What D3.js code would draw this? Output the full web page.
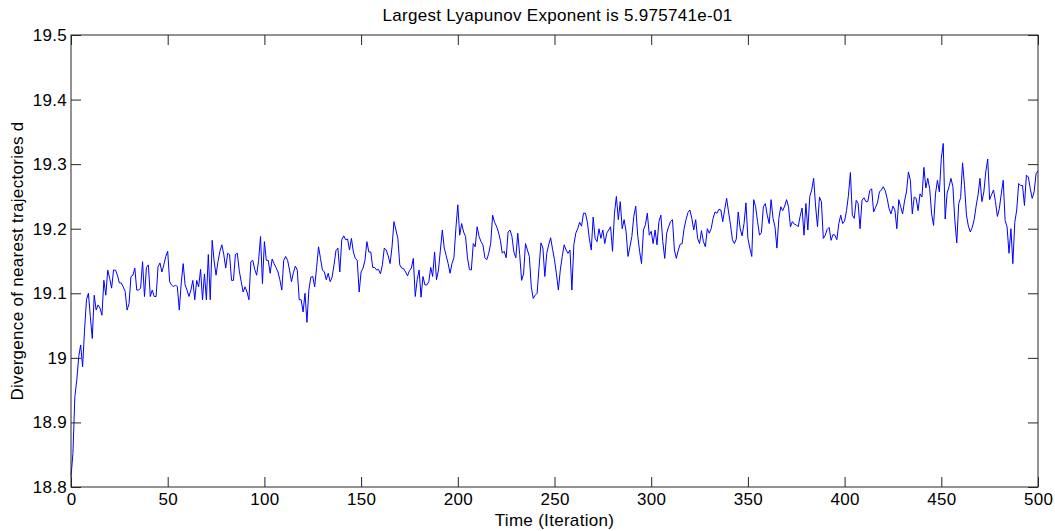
<!DOCTYPE html>
<html>
<head>
<meta charset="utf-8">
<script src="https://cdn.jsdelivr.net/npm/d3@7"></script>
<style>
  html, body { margin: 0; padding: 0; background: #fff; }
  svg { display: block; }
  text { font-family: "Liberation Sans", Arial, Helvetica, sans-serif; fill: #000; letter-spacing: 0.3px; }
</style>
</head>
<body>
<svg id="chart" width="1055" height="531"></svg>
<script>
const titleText = "Largest Lyapunov Exponent is 5.975741e-01";
const xLabel = "Time (Iteration)";
const yLabel = "Divergence of nearest trajectories d";
const xTicks = [0, 50, 100, 150, 200, 250, 300, 350, 400, 450, 500];
const yTicks = [18.8, 18.9, 19.0, 19.1, 19.2, 19.3, 19.4, 19.5];
const yTickLabels = ["18.8", "18.9", "19", "19.1", "19.2", "19.3", "19.4", "19.5"];
const xDomain = [0, 500];
const yDomain = [18.8, 19.5];

// divergence per iteration 0..500
const divergence = [
  18.816, 18.852, 18.94, 18.966, 19.002, 19.02, 18.986, 19.043, 19.09, 19.10,
  19.064, 19.03, 19.097, 19.074, 19.082, 19.077, 19.066, 19.12, 19.097, 19.136,
  19.123, 19.108, 19.136, 19.136, 19.128, 19.116, 19.116, 19.11, 19.103, 19.074,
  19.084, 19.126, 19.128, 19.139, 19.105, 19.105, 19.108, 19.149, 19.095, 19.14,
  19.144, 19.095, 19.105, 19.095, 19.095, 19.141, 19.147, 19.133, 19.144, 19.157,
  19.165, 19.118, 19.113, 19.11, 19.113, 19.11, 19.074, 19.116, 19.146, 19.113,
  19.105, 19.095, 19.105, 19.12, 19.09, 19.12, 19.11, 19.137, 19.09, 19.13,
  19.09, 19.16, 19.09, 19.182, 19.15, 19.128, 19.149, 19.165, 19.175, 19.16,
  19.139, 19.162, 19.16, 19.12, 19.12, 19.16, 19.162, 19.135, 19.118, 19.102,
  19.11, 19.102, 19.09, 19.149, 19.151, 19.137, 19.128, 19.151, 19.188, 19.115,
  19.18, 19.151, 19.151, 19.131, 19.153, 19.146, 19.14, 19.133, 19.121, 19.105,
  19.151, 19.157, 19.151, 19.136, 19.118, 19.132, 19.142, 19.136, 19.09, 19.09,
  19.071, 19.10, 19.055, 19.105, 19.125, 19.126, 19.11, 19.14, 19.172, 19.154,
  19.136, 19.133, 19.121, 19.131, 19.118, 19.125, 19.144, 19.166, 19.17, 19.133,
  19.183, 19.189, 19.183, 19.184, 19.167, 19.185, 19.164, 19.154, 19.151, 19.102,
  19.133, 19.139, 19.151, 19.18, 19.164, 19.164, 19.14, 19.14, 19.136, 19.137,
  19.13, 19.144, 19.17, 19.167, 19.158, 19.146, 19.172, 19.211, 19.198, 19.185,
  19.144, 19.139, 19.138, 19.133, 19.127, 19.135, 19.139, 19.154, 19.095, 19.121,
  19.136, 19.094, 19.126, 19.113, 19.113, 19.118, 19.14, 19.126, 19.164, 19.121,
  19.136, 19.167, 19.198, 19.17, 19.158, 19.146, 19.131, 19.146, 19.155, 19.2,
  19.237, 19.19, 19.208, 19.195, 19.188, 19.155, 19.137, 19.136, 19.177, 19.172,
  19.203, 19.188, 19.18, 19.175, 19.155, 19.152, 19.162, 19.177, 19.221, 19.21,
  19.204, 19.195, 19.182, 19.162, 19.165, 19.155, 19.195, 19.198, 19.188, 19.164,
  19.155, 19.193, 19.16, 19.12, 19.13, 19.177, 19.167, 19.157, 19.11, 19.092,
  19.097, 19.10, 19.14, 19.178, 19.17, 19.126, 19.162, 19.175, 19.186, 19.168,
  19.152, 19.13, 19.105, 19.136, 19.157, 19.175, 19.167, 19.162, 19.167, 19.105,
  19.175, 19.193, 19.2, 19.21, 19.204, 19.224, 19.224, 19.21, 19.185, 19.167,
  19.218, 19.185, 19.18, 19.2, 19.185, 19.198, 19.177, 19.193, 19.198, 19.203,
  19.165, 19.224, 19.25, 19.214, 19.242, 19.2, 19.214, 19.196, 19.157, 19.172,
  19.188, 19.219, 19.235, 19.19, 19.165, 19.146, 19.198, 19.206, 19.224, 19.19,
  19.196, 19.177, 19.198, 19.175, 19.211, 19.221, 19.18, 19.154, 19.193, 19.203,
  19.211, 19.214, 19.167, 19.154, 19.167, 19.176, 19.177, 19.2, 19.214, 19.225,
  19.229, 19.216, 19.198, 19.214, 19.185, 19.177, 19.197, 19.18, 19.172, 19.2,
  19.193, 19.2, 19.216, 19.226, 19.224, 19.23, 19.229, 19.211, 19.23, 19.247,
  19.226, 19.206, 19.183, 19.177, 19.184, 19.226, 19.2, 19.189, 19.208, 19.24,
  19.185, 19.17, 19.157, 19.245, 19.234, 19.211, 19.19, 19.194, 19.234, 19.239,
  19.221, 19.208, 19.245, 19.216, 19.203, 19.17, 19.216, 19.234, 19.228, 19.235,
  19.245, 19.234, 19.203, 19.211, 19.207, 19.206, 19.203, 19.219, 19.232, 19.19,
  19.239, 19.198, 19.25, 19.26, 19.278, 19.235, 19.203, 19.249, 19.242, 19.185,
  19.19, 19.199, 19.202, 19.182, 19.191, 19.19, 19.183, 19.208, 19.221, 19.208,
  19.212, 19.228, 19.252, 19.287, 19.221, 19.216, 19.244, 19.239, 19.2, 19.244,
  19.248, 19.242, 19.242, 19.259, 19.262, 19.226, 19.233, 19.24, 19.257, 19.26,
  19.265, 19.259, 19.247, 19.231, 19.223, 19.235, 19.229, 19.2, 19.245, 19.234,
  19.223, 19.243, 19.257, 19.288, 19.275, 19.223, 19.249, 19.247, 19.228, 19.254,
  19.249, 19.295, 19.263, 19.278, 19.262, 19.223, 19.205, 19.254, 19.275, 19.257,
  19.309, 19.332, 19.215, 19.255, 19.265, 19.278, 19.265, 19.213, 19.178, 19.239,
  19.248, 19.302, 19.267, 19.221, 19.204, 19.195, 19.202, 19.214, 19.235, 19.252,
  19.278, 19.242, 19.257, 19.288, 19.308, 19.245, 19.253, 19.26, 19.242, 19.219,
  19.231, 19.254, 19.275, 19.213, 19.203, 19.162, 19.2, 19.146, 19.21, 19.229,
  19.27, 19.267, 19.267, 19.236, 19.283, 19.28, 19.262, 19.247, 19.257, 19.285,
  19.29
];

const W = 1055, H = 531;
const margin = { left: 71, right: 17, top: 35, bottom: 44 };
const plotW = W - margin.left - margin.right;
const plotH = H - margin.top - margin.bottom;
const fontSize = "17px";

const svg = d3.select("#chart");
const g = svg.append("g").attr("transform", `translate(${margin.left},${margin.top})`);

const x = d3.scaleLinear().domain(xDomain).range([0, plotW]);
const y = d3.scaleLinear().domain(yDomain).range([plotH, 0]);

const axisColor = "#262626";
const tickLen = 10;

// data line
const line = d3.line().x((d, i) => x(i)).y(d => y(d));
g.append("path")
  .datum(divergence)
  .attr("fill", "none")
  .attr("stroke", "#0000ff")
  .attr("stroke-width", 1)
  .attr("d", line);

// axes
function styleAxis(sel) {
  sel.select(".domain").remove();
  sel.selectAll(".tick line").attr("stroke", axisColor);
  sel.selectAll(".tick text").style("font-size", fontSize).attr("fill", "#000");
}

g.append("g")
  .attr("transform", `translate(0,${plotH})`)
  .call(d3.axisBottom(x).tickValues(xTicks).tickSizeInner(-tickLen).tickSizeOuter(0).tickPadding(6).tickFormat(d3.format("d")))
  .call(styleAxis);

g.append("g")
  .call(d3.axisTop(x).tickValues(xTicks).tickSizeInner(-tickLen).tickSizeOuter(0).tickFormat(""))
  .call(styleAxis);

g.append("g")
  .call(d3.axisLeft(y).tickValues(yTicks).tickSizeInner(-tickLen).tickSizeOuter(0).tickPadding(4)
    .tickFormat((d, i) => yTickLabels[i]))
  .call(styleAxis);

g.append("g")
  .attr("transform", `translate(${plotW},0)`)
  .call(d3.axisRight(y).tickValues(yTicks).tickSizeInner(-tickLen).tickSizeOuter(0).tickFormat(""))
  .call(styleAxis);

// frame
g.append("rect")
  .attr("x", 0).attr("y", 0)
  .attr("width", plotW).attr("height", plotH)
  .attr("fill", "none")
  .attr("stroke", axisColor)
  .attr("stroke-width", 1);

// title
svg.append("text")
  .attr("x", margin.left + plotW / 2 + 3)
  .attr("y", 21)
  .attr("text-anchor", "middle")
  .style("font-size", fontSize)
  .text(titleText);

// x label
svg.append("text")
  .attr("x", margin.left + plotW / 2)
  .attr("y", 526)
  .attr("text-anchor", "middle")
  .style("font-size", fontSize)
  .text(xLabel);

// y label
svg.append("text")
  .attr("transform", `translate(23,${margin.top + plotH / 2}) rotate(-90)`)
  .attr("text-anchor", "middle")
  .style("font-size", fontSize)
  .text(yLabel);
</script>
</body>
</html>
